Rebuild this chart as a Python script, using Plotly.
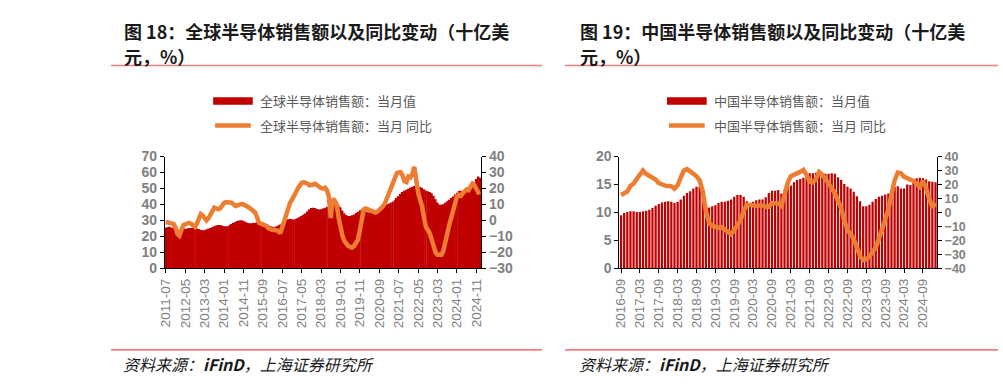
import pandas as pd
import plotly.graph_objects as go

# ---------------- data ----------------
global_months = [d.strftime("%Y-%m") for d in pd.date_range("2011-07-01", "2025-01-01", freq="MS")]
global_sales = [
    25.5, 25.8, 26.0, 25.6, 25.2, 24.8, 24.3, 24.0, 24.2, 24.6, 24.8, 25.0,
    25.2, 25.3, 25.5, 25.3, 25.0, 24.6, 24.2, 23.8, 23.9, 24.3, 24.8, 25.3,
    25.8, 26.3, 26.8, 27.2, 27.1, 26.8, 26.4, 26.3, 26.6, 27.2, 27.8, 28.4,
    29.0, 29.6, 30.0, 30.2, 29.8, 29.2, 28.6, 28.3, 28.2, 28.4, 28.6, 28.8,
    28.6, 28.3, 28.0, 27.6, 27.2, 26.8, 26.4, 26.0, 25.8, 26.2, 26.8, 27.5,
    28.4, 29.4, 30.2, 30.8, 31.0, 30.8, 30.6, 30.9, 31.4, 32.0, 32.8, 33.6,
    34.4, 35.6, 36.8, 37.8, 38.0, 37.8, 37.2, 36.9, 37.0, 37.4, 38.0, 38.6,
    39.2, 40.0, 40.6, 40.8, 40.4, 39.6, 38.2, 36.2, 34.5, 33.4, 32.8, 32.8,
    33.2, 33.8, 34.6, 35.5, 36.4, 36.8, 36.5, 35.8, 35.2, 34.8, 34.9, 35.2,
    35.6, 36.3, 37.4, 38.4, 39.4, 39.8, 40.2, 40.6, 41.2, 41.8, 42.8, 44.0,
    45.2, 46.6, 47.8, 48.6, 49.2, 49.8, 50.4, 51.0, 51.6, 51.7, 51.4, 51.0,
    50.4, 49.6, 48.8, 48.2, 47.8, 47.0, 45.5, 43.2, 41.2, 40.0, 39.8, 40.2,
    41.0, 42.0, 43.0, 44.0, 45.0, 46.2, 47.4, 48.4, 48.6, 47.6, 46.8, 47.6,
    48.6, 49.8, 51.0, 52.6, 56.0, 57.5, 56.8,
]
global_yoy = [
    -1.0, -1.5, -1.5, -1.8, -2.2, -4.5, -8.5, -9.5, -6.0, -3.0, -2.5, -2.0,
    -1.5, -2.0, -3.5, -4.0, -2.0, 1.5, 4.0, 3.0, 1.0, 0.0, 1.5, 4.0,
    6.5, 8.0, 7.5, 7.0, 7.5, 9.5, 11.0, 11.5, 11.0, 11.2, 11.0, 9.5,
    9.0, 9.5, 10.0, 10.2, 10.0, 9.5, 9.0, 8.0, 7.0, 6.0, 5.0, 2.0,
    -1.5, -2.0, -2.5, -2.5, -3.5, -5.0, -5.8, -6.0, -6.0, -6.2, -6.5, -8.0,
    -4.0, 0.5, 4.0, 8.0, 11.0, 13.0, 16.0, 17.5, 20.0, 22.0, 23.5, 24.0,
    23.8, 23.0, 22.0, 22.0, 22.5, 23.0, 22.0, 21.0, 20.2, 20.0, 20.5, 19.0,
    15.0, 1.5, 13.5, 12.5, 10.0, 2.0, -5.0, -9.5, -13.0, -15.0, -16.0, -16.5,
    -17.0, -16.0, -14.5, -12.0, -6.0, 1.5, 7.0, 7.5, 7.0, 6.5, 5.5, 5.0,
    5.0, 5.5, 6.5, 7.5, 9.0, 11.0, 14.0, 17.5, 21.0, 24.0, 27.0, 29.5,
    30.0, 30.2, 28.0, 24.5, 24.0, 27.5, 27.0, 29.0, 33.5, 24.0, 17.5, 13.0,
    9.0, 2.0, -4.0, -6.0, -8.0, -12.0, -17.0, -20.0, -21.5, -21.8, -21.5, -19.0,
    -12.5, -7.0, -3.0, 1.5, 6.0, 12.0, 15.0, 16.0, 15.5, 17.0, 18.5, 19.5,
    19.0, 20.5, 23.0, 22.0, 19.5, 17.5, 18.0,
]
global_tick_labels = global_months[::10]

china_months = [d.strftime("%Y-%m") for d in pd.date_range("2016-09-01", "2025-01-01", freq="MS")]
china_sales = [
    9.5, 9.9, 10.1, 10.2, 10.2, 10.1, 10.1, 10.2, 10.3, 10.5, 10.8, 11.2,
    11.5, 11.8, 11.9, 12.0, 11.9, 11.7, 11.9, 12.3, 13.0, 13.5, 13.8, 14.3,
    14.6, 14.6, 14.0, 11.7, 10.9, 11.1, 11.3, 11.7, 11.9, 11.9, 12.1, 12.3,
    12.8, 13.1, 13.1, 12.8, 12.0, 11.7, 11.9, 12.2, 12.3, 12.3, 12.7, 13.5,
    13.9, 13.9, 14.0, 13.4, 14.1, 14.5, 14.8, 15.4, 15.8, 16.0, 16.2, 16.5,
    17.0, 17.0, 17.1, 16.9, 16.6, 16.9, 16.9, 17.0, 16.9, 16.3, 15.8, 15.1,
    14.6, 14.3, 13.7, 12.9, 12.0, 11.1, 11.1, 11.4, 11.9, 12.4, 12.8, 13.0,
    13.2, 13.4, 14.0, 14.6, 14.7, 14.3, 14.3, 15.0, 14.9, 15.6, 16.1, 16.2,
    16.1, 15.9, 15.6, 15.5, 15.4,
]
china_yoy = [
    12.5, 13.5, 15.0, 19.0, 20.6, 24.0, 27.0, 30.0, 27.5, 26.0, 25.0, 23.5,
    21.0, 20.0, 19.2, 19.0, 18.8, 17.0, 19.5, 25.0, 30.0, 31.0, 29.5, 28.0,
    26.0, 23.0, 15.0, 1.0, -7.5, -9.5, -10.0, -11.0, -10.5, -12.5, -14.5, -15.5,
    -12.5, -9.0, -5.5, 1.0, 5.5, 5.5, 5.0, 4.6, 5.0, 5.0, 4.0, 4.0,
    6.8, 7.0, 6.5, 4.6, 14.0, 21.0, 26.0, 27.0, 27.5, 29.0, 30.5, 27.0,
    22.0, 21.5, 24.0, 29.0, 27.0, 24.0, 21.0, 17.5, 13.5, 8.0, 3.0, -6.0,
    -12.5, -15.5, -19.0, -25.0, -31.0, -34.0, -33.5, -31.5, -28.5, -25.0, -19.0, -12.0,
    -6.0, 2.0, 13.0, 23.0, 28.5, 28.0, 25.5, 24.5, 24.0, 22.5, 20.5, 18.3,
    22.5, 17.5, 10.0, 3.5, 6.8,
]
china_tick_labels = china_months[::6]

left_title = ["图 18：全球半导体销售额以及同比变动（十亿美", "元，%）"]
right_title = ["图 19：中国半导体销售额以及同比变动（十亿美", "元，%）"]
left_legend = ["全球半导体销售额：当月值", "全球半导体销售额：当月 同比"]
right_legend = ["中国半导体销售额：当月值", "中国半导体销售额：当月 同比"]
source_text = "资料来源：<b>iFinD</b>，上海证券研究所"

# ---------------- styling ----------------
W, H = 1003, 384
RED = "#C00000"
ORANGE = "#ED7D31"
SALMON = "#F08080"
TICK_GRAY = "#808080"
CJK = "Noto Sans CJK SC"
LAT = "Liberation Sans"


def px(x):
    return x / W


def py(y):
    return 1 - y / H


ydom = [py(271.7), py(155)]
xdom_l = [px(159.3), px(478.5)]
xdom_r = [px(618.0), px(938.5)]

fig = go.Figure()
fig.add_trace(go.Bar(x=global_months, y=global_sales, width=1.0, marker=dict(color=RED, line=dict(width=0)),
                     xaxis="x", yaxis="y", name=left_legend[0]))
fig.add_trace(go.Scatter(x=global_months, y=global_yoy, mode="lines", line=dict(color=ORANGE, width=4.5),
                         xaxis="x", yaxis="y2", name=left_legend[1]))
fig.add_trace(go.Bar(x=china_months, y=china_sales, width=0.72, marker=dict(color=RED, line=dict(width=0)),
                     xaxis="x2", yaxis="y3", name=right_legend[0]))
fig.add_trace(go.Scatter(x=china_months, y=china_yoy, mode="lines", line=dict(color=ORANGE, width=4.5),
                         xaxis="x2", yaxis="y4", name=right_legend[1]))

xcommon = dict(type="category", tickmode="array", tickangle=-90, ticks="outside", ticklen=4,
               tickcolor="black", showline=True, linecolor="black", linewidth=1, showgrid=False,
               zeroline=False, tickfont=dict(family=LAT, size=13.5, color=TICK_GRAY))


def yax(size, **kw):
    d = dict(ticks="outside", ticklen=4, tickcolor="black", showline=True, linecolor="black",
             linewidth=1, showgrid=False, zeroline=False,
             tickfont=dict(family=LAT, size=size, color=TICK_GRAY, weight="bold"))
    d.update(kw)
    return d


fig.update_layout(
    width=W, height=H, margin=dict(l=0, r=0, t=0, b=0),
    paper_bgcolor="white", plot_bgcolor="white", showlegend=False,
    xaxis=dict(domain=xdom_l, anchor="y", range=[-0.5, len(global_months) - 0.5],
               tickvals=global_tick_labels, ticktext=global_tick_labels, **xcommon),
    yaxis=yax(14, domain=ydom, anchor="x", range=[0, 70], dtick=10),
    yaxis2=yax(14, overlaying="y", anchor="x", side="right", range=[-30, 40], dtick=10),
    xaxis2=dict(domain=xdom_r, anchor="y3", range=[-0.5, len(china_months) - 0.5],
                tickvals=china_tick_labels, ticktext=china_tick_labels, **xcommon),
    yaxis3=yax(14, domain=ydom, anchor="x2", range=[0, 20], dtick=5),
    yaxis4=yax(12.5, overlaying="y3", anchor="x2", side="right", range=[-40, 40], dtick=10),
)

shapes = []
annotations = []

for (x0, x1, tx, title) in [(105, 540, 116.5, left_title), (563, 1000, 576.5, right_title)]:
    for yy in (60, 356.7):
        shapes.append(dict(type="line", xref="paper", yref="paper", x0=px(x0), x1=px(x1),
                           y0=py(yy), y1=py(yy), line=dict(color=SALMON, width=1.6)))
    for i, t in enumerate(title):
        annotations.append(dict(text="<b>" + t + "</b>", xref="paper", yref="paper",
                                x=px(tx), y=py(23.5 + 26.5 * i), xanchor="left", yanchor="middle",
                                showarrow=False, font=dict(family=CJK, size=18, color="#1a1a1a")))
    annotations.append(dict(text="<i>" + source_text + "</i>", xref="paper", yref="paper",
                            x=px(tx - 1), y=py(371.5), xanchor="left", yanchor="middle",
                            showarrow=False, font=dict(family=CJK, size=16, color="#1a1a1a")))

for (sx, legend) in [(208, left_legend), (666, right_legend)]:
    shapes.append(dict(type="rect", xref="paper", yref="paper", x0=px(sx), x1=px(sx + 40),
                       y0=py(101), y1=py(93), fillcolor=RED, line=dict(width=0)))
    shapes.append(dict(type="line", xref="paper", yref="paper", x0=px(sx + 2), x1=px(sx + 38),
                       y0=py(122.5), y1=py(122.5), line=dict(color=ORANGE, width=4.5)))
    for i, t in enumerate(legend):
        annotations.append(dict(text=t, xref="paper", yref="paper", x=px(sx + 45),
                                y=py(97 + 26 * i), xanchor="left", yanchor="middle",
                                showarrow=False, font=dict(family=CJK, size=13, color="#595959")))

fig.update_layout(shapes=shapes, annotations=annotations)
fig.write_html("out.html", config={"displayModeBar": False},
               post_script="document.body.style.margin='0px';document.body.style.overflow='hidden';")
